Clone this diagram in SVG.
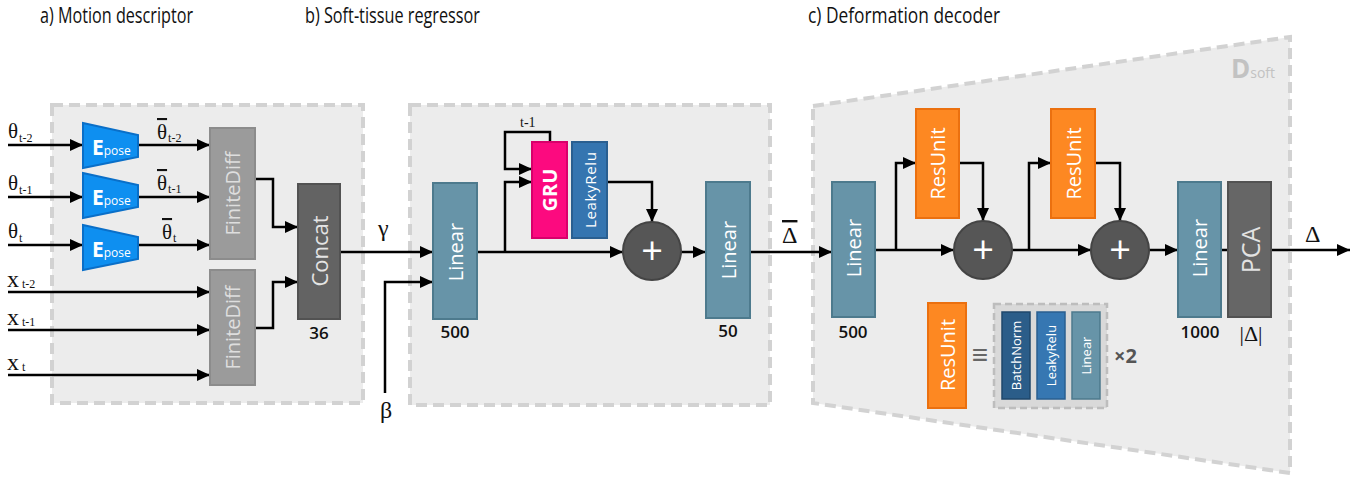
<svg xmlns="http://www.w3.org/2000/svg" width="1358" height="477" viewBox="0 0 1358 477">
<defs>
<marker id="ah" markerUnits="userSpaceOnUse" markerWidth="13" markerHeight="12" refX="13" refY="6" orient="auto">
<path d="M0,0 L13,6 L0,12 z" fill="#000"/>
</marker>
<style>
.panel{fill:#ececec;stroke:#d2d2d2;stroke-width:4;stroke-dasharray:11 6}
.title{font-family:"Open Sans","Noto Sans",sans-serif;font-size:22px;fill:#111}
.lbl{font-family:"Open Sans","Noto Sans",sans-serif;fill:#fff;text-anchor:middle;dominant-baseline:central}
.num{font-family:"Open Sans","Noto Sans",sans-serif;font-size:17px;font-weight:600;fill:#111;text-anchor:middle}
.m{font-family:"Liberation Serif","Times New Roman",serif;fill:#111}
.lin{fill:#6794a8;stroke:#4d7a8d;stroke-width:2}
.fd{fill:#9b9b9b;stroke:#8c8c8c;stroke-width:2}
.dk{fill:#636363;stroke:#525252;stroke-width:2}
.res{fill:#fd8822;stroke:#eb700f;stroke-width:2}
.lr{fill:#3575b0;stroke:#2a5f90;stroke-width:2}
.ep{fill:#0e8ff0;stroke:#0a6fc8;stroke-width:2}
.sum{fill:#565656;stroke:#444;stroke-width:2}
.c{fill:none;stroke:#000;stroke-width:2.5}
.a{marker-end:url(#ah)}
</style>
</defs>

<!-- titles -->
<text class="title" x="40" y="23" textLength="153" lengthAdjust="spacingAndGlyphs">a) Motion descriptor</text>
<text class="title" x="305" y="23" textLength="175" lengthAdjust="spacingAndGlyphs">b) Soft-tissue regressor</text>
<text class="title" x="808" y="23" textLength="192" lengthAdjust="spacingAndGlyphs">c) Deformation decoder</text>

<!-- panels -->
<rect class="panel" x="52" y="105" width="311" height="298"/>
<rect class="panel" x="410" y="105" width="360" height="300"/>
<polygon class="panel" points="813,106 1290,37 1290,473 813,403"/>
<text x="1231" y="78" font-family="Open Sans,Noto Sans,sans-serif" font-size="26" font-weight="700" fill="#c2c2c2">D<tspan font-size="14" font-weight="400">soft</tspan></text>

<!-- connectors -->
<g id="connectors">
<line class="c a" x1="8" y1="145" x2="83" y2="145"/>
<line class="c a" x1="8" y1="197" x2="83" y2="197"/>
<line class="c a" x1="8" y1="245" x2="83" y2="245"/>
<line class="c a" x1="138" y1="145" x2="210" y2="145"/>
<line class="c a" x1="138" y1="197" x2="210" y2="197"/>
<line class="c a" x1="138" y1="245" x2="210" y2="245"/>
<line class="c a" x1="8" y1="292" x2="210" y2="292"/>
<line class="c a" x1="8" y1="330" x2="210" y2="330"/>
<line class="c a" x1="8" y1="375" x2="210" y2="375"/>
<polyline class="c a" points="255,179 273,179 273,227 298,227"/>
<polyline class="c a" points="255,328 273,328 273,282 298,282"/>
<line class="c a" x1="340" y1="252" x2="433" y2="252"/>
<polyline class="c a" points="385,393 385,282 433,282"/>
<line class="c a" x1="477" y1="252" x2="623" y2="252"/>
<polyline class="c a" points="505,252 505,182 532,182"/>
<polyline class="c a" points="550,142 550,132 505,132 505,169 532,169"/>
<polyline class="c a" points="607,182 652,182 652,222"/>
<line class="c a" x1="681" y1="252" x2="706" y2="252"/>
<line class="c a" x1="750" y1="252" x2="832" y2="252"/>
<line class="c a" x1="875" y1="250" x2="954" y2="250"/>
<polyline class="c a" points="896,250 896,163 916,163"/>
<polyline class="c a" points="959,163 983,163 983,221"/>
<line class="c a" x1="1012" y1="250" x2="1091" y2="250"/>
<polyline class="c a" points="1029,250 1029,163 1051,163"/>
<polyline class="c a" points="1095,163 1120,163 1120,221"/>
<line class="c a" x1="1149" y1="250" x2="1178" y2="250"/>
<line class="c" x1="1221" y1="250" x2="1228" y2="250"/>
<line class="c a" x1="1271" y1="250" x2="1350" y2="250"/>
</g>

<!-- input labels -->
<text class="m" x="8" y="138" font-size="21">θ<tspan font-size="12" dx="1" dy="4">t-2</tspan></text>
<text class="m" x="8" y="190" font-size="21">θ<tspan font-size="12" dx="1" dy="4">t-1</tspan></text>
<text class="m" x="8" y="238" font-size="21">θ<tspan font-size="12" dx="1" dy="4">t</tspan></text>
<text class="m" x="157" y="139" font-size="21"><tspan text-decoration="overline">θ</tspan><tspan font-size="12" dx="1" dy="3">t-2</tspan></text>
<text class="m" x="157" y="190" font-size="21"><tspan text-decoration="overline">θ</tspan><tspan font-size="12" dx="1" dy="3">t-1</tspan></text>
<text class="m" x="162" y="239" font-size="21"><tspan text-decoration="overline">θ</tspan><tspan font-size="12" dx="1" dy="3">t</tspan></text>
<text class="m" x="7" y="287" font-size="24">x<tspan font-size="12" dx="3" dy="1">t-2</tspan></text>
<text class="m" x="7" y="325" font-size="24">x<tspan font-size="12" dx="3" dy="1">t-1</tspan></text>
<text class="m" x="7" y="370" font-size="24">x<tspan font-size="12" dx="3" dy="1">t</tspan></text>
<text class="m" x="378" y="236" font-size="24">γ</text>
<text class="m" x="380" y="418" font-size="24">β</text>
<text class="m" x="520" y="127" font-size="14">t-1</text>
<text class="m" x="782" y="243" font-size="24"><tspan text-decoration="overline">Δ</tspan></text>
<text class="m" x="1305" y="242" font-size="24">Δ</text>

<!-- panel a nodes -->
<g id="epose1"><polygon class="ep" points="83,123 138,135 138,157 83,168"/><text x="92" y="155" font-family="Open Sans,Noto Sans,sans-serif" font-size="21" font-weight="700" fill="#fff">E<tspan font-size="12" font-weight="400">pose</tspan></text></g>
<g id="epose2"><polygon class="ep" points="83,173 138,185 138,207 83,218"/><text x="92" y="205" font-family="Open Sans,Noto Sans,sans-serif" font-size="21" font-weight="700" fill="#fff">E<tspan font-size="12" font-weight="400">pose</tspan></text></g>
<g id="epose3"><polygon class="ep" points="83,225 138,237 138,259 83,270"/><text x="92" y="257" font-family="Open Sans,Noto Sans,sans-serif" font-size="21" font-weight="700" fill="#fff">E<tspan font-size="12" font-weight="400">pose</tspan></text></g>
<g id="finitediff1"><rect class="fd" x="210" y="128" width="45" height="131"/><text class="lbl" x="232.5" y="193.5" font-size="20" style="fill:#dedede" transform="rotate(-90 232.5 193.5)">FiniteDiff</text></g>
<g id="finitediff2"><rect class="fd" x="210" y="270" width="45" height="115"/><text class="lbl" x="232.5" y="327.5" font-size="20" style="fill:#dedede" transform="rotate(-90 232.5 327.5)">FiniteDiff</text></g>
<g id="concat"><rect class="dk" x="298" y="184" width="42" height="135"/><text class="lbl" x="319" y="251" font-size="22" style="fill:#e4e4e4" transform="rotate(-90 319 251)">Concat</text><text class="num" x="319" y="339">36</text></g>

<!-- panel b nodes -->
<g id="linear-b1"><rect class="lin" x="433" y="183" width="44" height="136"/><text class="lbl" x="455" y="252" font-size="20" transform="rotate(-90 455 252)">Linear</text><text class="num" x="455" y="338">500</text></g>
<g id="gru"><rect x="532" y="142" width="35" height="96" fill="#fc0a7f" stroke="#d8006b" stroke-width="2"/><text class="lbl" x="549.5" y="190" font-size="20" font-weight="700" transform="rotate(-90 549.5 190)">GRU</text></g>
<g id="leakyrelu-b"><rect class="lr" x="572" y="142" width="35" height="96"/><text class="lbl" x="589.5" y="190" font-size="15" textLength="76" transform="rotate(-90 589.5 190)">LeakyRelu</text></g>
<g id="sum-b"><circle class="sum" cx="652" cy="251" r="29"/><text class="lbl" x="652" y="249" font-size="38">+</text></g>
<g id="linear-b2"><rect class="lin" x="706" y="182" width="44" height="136"/><text class="lbl" x="728" y="250" font-size="20" transform="rotate(-90 728 250)">Linear</text><text class="num" x="728" y="337">50</text></g>

<!-- panel c nodes -->
<g id="linear-c1"><rect class="lin" x="832" y="182" width="43" height="135"/><text class="lbl" x="853.5" y="248" font-size="20" transform="rotate(-90 853.5 248)">Linear</text><text class="num" x="853" y="338">500</text></g>
<g id="resunit1"><rect class="res" x="916" y="109" width="43" height="109"/><text class="lbl" x="937.5" y="163.5" font-size="20" transform="rotate(-90 937.5 163.5)">ResUnit</text></g>
<g id="sum-c1"><circle class="sum" cx="983" cy="250" r="29"/><text class="lbl" x="983" y="248" font-size="38">+</text></g>
<g id="resunit2"><rect class="res" x="1051" y="109" width="44" height="109"/><text class="lbl" x="1073" y="163.5" font-size="20" transform="rotate(-90 1073 163.5)">ResUnit</text></g>
<g id="sum-c2"><circle class="sum" cx="1120" cy="250" r="29"/><text class="lbl" x="1120" y="248" font-size="38">+</text></g>
<g id="linear-c2"><rect class="lin" x="1178" y="182" width="43" height="135"/><text class="lbl" x="1199.5" y="248" font-size="20" transform="rotate(-90 1199.5 248)">Linear</text><text class="num" x="1200" y="338">1000</text></g>
<g id="pca"><rect class="dk" x="1228" y="182" width="43" height="135" style="fill:#666"/><text class="lbl" x="1249.5" y="250" font-size="25" style="fill:#e2e2e2" transform="rotate(-90 1249.5 250)">PCA</text><text class="m" x="1251" y="341" font-size="22" text-anchor="middle">|Δ|</text></g>

<!-- legend -->
<g id="resunit-legend"><rect class="res" x="928" y="303" width="38" height="105"/><text class="lbl" x="947" y="355" font-size="20" transform="rotate(-90 947 355)">ResUnit</text></g>
<text x="980" y="364" font-family="Open Sans,Noto Sans,sans-serif" font-size="28" fill="#666" text-anchor="middle">≡</text>
<g id="resunit-def">
<rect x="994" y="304" width="113" height="104" fill="#d9d9d9" stroke="#bdbdbd" stroke-width="2.5" stroke-dasharray="7 4"/>
<rect x="1002" y="312" width="28" height="87" fill="#2b5d89" stroke="#1f476b" stroke-width="1.5"/><text class="lbl" x="1016" y="355.5" font-size="13" transform="rotate(-90 1016 355.5)">BatchNorm</text>
<rect x="1037" y="312" width="28" height="87" fill="#3677b2" stroke="#2a5f90" stroke-width="1.5"/><text class="lbl" x="1051" y="355.5" font-size="13" transform="rotate(-90 1051 355.5)">LeakyRelu</text>
<rect x="1072" y="312" width="28" height="87" fill="#6794a8" stroke="#4d7a8d" stroke-width="1.5"/><text class="lbl" x="1086" y="355.5" font-size="13" transform="rotate(-90 1086 355.5)">Linear</text>
</g>
<text x="1114" y="363" font-family="Open Sans,Noto Sans,sans-serif" font-size="20" font-weight="700" fill="#555">×2</text>
</svg>
